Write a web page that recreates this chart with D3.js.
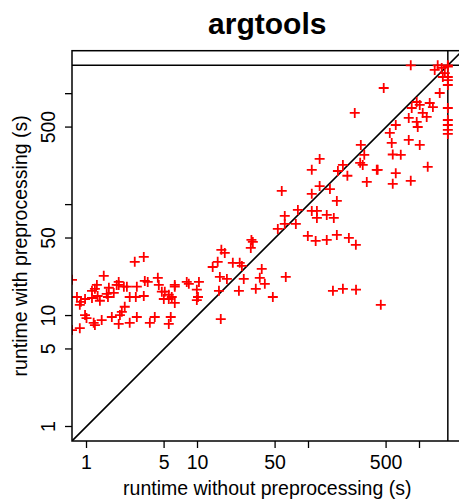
<!DOCTYPE html>
<html>
<head>
<meta charset="utf-8">
<script src="https://cdn.jsdelivr.net/npm/d3@7"></script>
<style>
  body { margin: 0; background: #fff; }
  svg text { font-family: "Liberation Sans", Arial, Helvetica, sans-serif; fill: #000; }
</style>
</head>
<body>
<div id="chart"></div>
<script>
"use strict";

const TITLE = "argtools";
const TIMEOUT = 1800;

// runtime without preprocessing (s)
const xWithout = [
  2.72, 3.28, 1.43, 1.95, 1.95, 2.31, 3.35, 3.56, 4.39, 4.48,
  1.24, 1.19, 1.59, 0.82, 0.97, 0.89, 0.87, 1.12, 1.12, 1.26,
  1.32, 1.52, 1.56, 1.76, 1.87, 2.17, 2.45, 2.78, 2.84, 3.28,
  4.77, 5.07, 4.97, 5.51, 5.51, 5.86, 6.24, 6.24, 8.0, 8.35,
  9.86, 10.3, 10.1, 6.24, 2.21, 2.08, 2.0, 0.97, 1.0, 1.37,
  1.69, 1.95, 1.16, 1.19, 0.87, 2.45, 2.84, 3.72, 4.12, 5.51,
  5.74, 0.74, 0.74, 9.86,
  16.4, 17.6, 15.2, 13.7, 15.9, 18.4, 20.8, 24.0, 25.1, 15.6,
  26.1, 23.6, 30.6, 30.2, 31.5, 37.9, 36.4, 40.4, 33.5, 47.7,
  62.4, 16.2, 52.9, 61.1, 61.1, 76.9, 80.2, 57.4, 107, 126,
  156, 180, 107, 119, 119, 146, 169, 98.6, 116, 146,
  180, 231, 267, 166, 204, 268, 448, 296, 318, 126,
  107, 204, 184, 224, 292, 308, 412, 335, 261,
  834, 1459, 1800, 1371, 1585, 1690, 1622,
  1800, 1800, 1800, 1800, 1800, 1800, 1800, 1800, 1800,
  476, 1521, 944, 1005, 851, 1236, 1320, 1069, 1161, 800,
  944, 964, 611, 540, 800, 562, 1005, 574, 678, 420,
  611, 574, 1186, 834
];

// runtime with preprocessing (s)
const yWith = [
  30.5, 33.8, 22.8, 20.1, 18.9, 18.2, 20.5, 20.1, 21.9, 18.9,
  18.9, 17.4, 17.8, 14.7, 14.1, 13.3, 12.5, 16.7, 14.4, 15.0,
  13.6, 15.7, 14.7, 16.0, 18.9, 18.2, 14.7, 14.7, 18.2, 15.0,
  16.4, 16.4, 14.1, 15.4, 14.1, 14.7, 18.9, 18.2, 20.1, 19.3,
  17.1, 20.1, 14.7, 13.0, 12.0, 10.8, 10.1, 10.1, 9.5, 9.1,
  9.7, 8.4, 8.6, 8.2, 7.7, 8.6, 9.7, 8.6, 9.7, 8.4,
  9.7, 21.0, 7.4, 13.8,
  39.1, 36.7, 30.5, 27.4, 22.3, 21.4, 29.9, 29.9, 28.0, 16.7,
  21.4, 16.7, 48.1, 40.7, 46.1, 26.3, 21.9, 19.3, 17.4, 14.7,
  22.3, 9.3, 60.4, 79.1, 67.0, 67.0, 89.5, 133, 125, 147,
  138, 108, 87.7, 87.7, 75.9, 80.7, 75.9, 52.2, 47.1, 48.1,
  53.3, 50.1, 43.4, 16.7, 17.4, 17.1, 12.5, 345, 281, 258,
  206, 228, 201, 182, 238, 228, 206, 160, 670,
  1800, 1800, 1800, 1636, 1706, 1535, 1413,
  1750, 1413, 1327, 1197, 743, 579, 522, 471, 434,
  1125, 1014, 841, 791, 743, 824, 758, 670, 617, 604,
  556, 501, 522, 443, 383, 360, 345, 283, 281, 206,
  192, 154, 219, 164
];

const tickValues = [1, 5, 10, 50, 100, 500, 1000];
const tickLabels = ["1", "5", "10", "50", "", "500", ""];

const width = 459, height = 504;
const plot = { left: 72, top: 50.7, right: 462.5, bottom: 441 };

const svg = d3.select("#chart")
  .append("svg")
  .attr("width", width)
  .attr("height", height);

const x = d3.scaleLog()
  .domain([0.74, 2440])
  .range([plot.left, plot.right]);

const y = d3.scaleLog()
  .domain([0.74, 2440])
  .range([plot.bottom, plot.top]);

svg.append("clipPath")
  .attr("id", "clip")
  .append("rect")
  .attr("x", plot.left)
  .attr("y", plot.top)
  .attr("width", plot.right - plot.left)
  .attr("height", plot.bottom - plot.top);

const g = svg.append("g").attr("clip-path", "url(#clip)");

// reference lines: y = x and the timeout
const lo = x.domain()[0], hi = x.domain()[1];
g.append("line")
  .attr("x1", x(lo)).attr("y1", y(lo))
  .attr("x2", x(hi)).attr("y2", y(hi))
  .attr("stroke", "#000").attr("stroke-width", 1.6);
g.append("line")
  .attr("x1", plot.left).attr("x2", plot.right)
  .attr("y1", y(TIMEOUT)).attr("y2", y(TIMEOUT))
  .attr("stroke", "#000").attr("stroke-width", 1.5);
g.append("line")
  .attr("x1", x(TIMEOUT)).attr("x2", x(TIMEOUT))
  .attr("y1", plot.top).attr("y2", plot.bottom)
  .attr("stroke", "#000").attr("stroke-width", 1.5);

// points as "+" marks
const pts = xWithout.map((v, i) => ({ x: v, y: yWith[i] }));
const s = 5;
g.selectAll(".pt")
  .data(pts)
  .enter()
  .append("path")
  .attr("class", "pt")
  .attr("d", d => {
    const cx = x(d.x), cy = y(d.y);
    return `M${cx - s},${cy}H${cx + s}M${cx},${cy - s}V${cy + s}`;
  })
  .attr("stroke", "#ff0000")
  .attr("stroke-width", 1.8)
  .attr("fill", "none");

// box
svg.append("rect")
  .attr("x", plot.left)
  .attr("y", plot.top)
  .attr("width", plot.right - plot.left)
  .attr("height", plot.bottom - plot.top)
  .attr("fill", "none")
  .attr("stroke", "#000")
  .attr("stroke-width", 1.5);

// x axis
const xAxis = svg.append("g");
xAxis.selectAll("line")
  .data(tickValues)
  .enter()
  .append("line")
  .attr("x1", d => x(d)).attr("x2", d => x(d))
  .attr("y1", plot.bottom).attr("y2", plot.bottom + 7)
  .attr("stroke", "#000").attr("stroke-width", 1.3);
xAxis.selectAll("text")
  .data(tickValues)
  .enter()
  .append("text")
  .attr("x", d => x(d))
  .attr("y", 469)
  .attr("text-anchor", "middle")
  .style("font-size", "19.5px")
  .text((d, i) => tickLabels[i]);

// y axis
const yAxis = svg.append("g");
yAxis.selectAll("line")
  .data(tickValues)
  .enter()
  .append("line")
  .attr("x1", plot.left - 7).attr("x2", plot.left)
  .attr("y1", d => y(d)).attr("y2", d => y(d))
  .attr("stroke", "#000").attr("stroke-width", 1.3);
yAxis.selectAll("text")
  .data(tickValues)
  .enter()
  .append("text")
  .attr("transform", d => `translate(55,${y(d)}) rotate(-90)`)
  .attr("text-anchor", "middle")
  .style("font-size", "19.5px")
  .text((d, i) => tickLabels[i]);

// titles
svg.append("text")
  .attr("x", (plot.left + plot.right) / 2)
  .attr("y", 34)
  .attr("text-anchor", "middle")
  .style("font-size", "30px")
  .style("font-weight", "bold")
  .text(TITLE);

svg.append("text")
  .attr("x", (plot.left + plot.right) / 2)
  .attr("y", 495)
  .attr("text-anchor", "middle")
  .style("font-size", "19.5px")
  .text("runtime without preprocessing (s)");

svg.append("text")
  .attr("transform", `translate(27,${(plot.top + plot.bottom) / 2}) rotate(-90)`)
  .attr("text-anchor", "middle")
  .style("font-size", "19.5px")
  .text("runtime with preprocessing (s)");
</script>
</body>
</html>
